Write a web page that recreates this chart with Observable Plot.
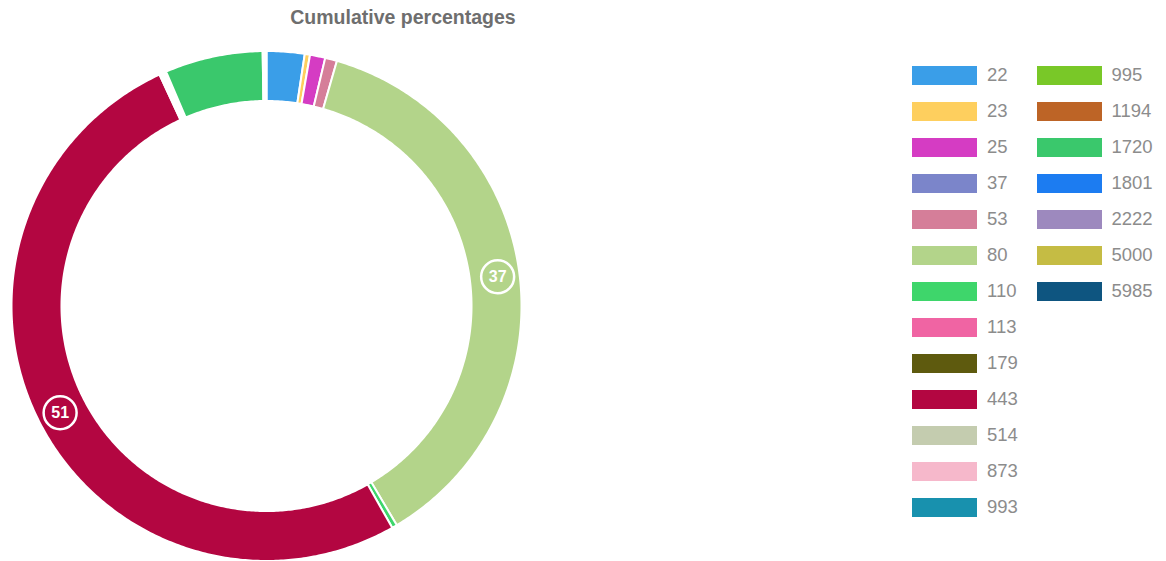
<!DOCTYPE html>
<html>
<head>
<meta charset="utf-8">
<script src="https://cdn.jsdelivr.net/npm/d3@7"></script>
<script src="https://cdn.jsdelivr.net/npm/@observablehq/plot@0.6"></script>
<style>
  html, body { margin: 0; padding: 0; background: #fff; }
  #wrap { position: relative; width: 1166px; height: 561px; overflow: hidden; font-family: "Liberation Sans", Arial, sans-serif; }
  #chart { position: absolute; left: 0; top: 0; }
  #title { position: absolute; left: 203px; width: 400px; top: 6px; text-align: center; font-size: 19.5px; font-weight: bold; color: #6e6e6e; }
  #legend { position: absolute; left: 912px; top: 57px; display: grid; grid-auto-flow: column; grid-template-rows: repeat(13, 36px); grid-template-columns: 124.5px 124.5px; }
  .item { display: flex; align-items: center; }
  .sw { width: 65px; height: 19px; margin-right: 10px; }
  .lb { font-size: 18.5px; color: #8c8c8c; }
</style>
</head>
<body>
<div id="wrap">
  <div id="chart"></div>
  <div id="title">Cumulative percentages</div>
  <div id="legend"></div>
</div>
<script>
// Categories (legend order = slice order, clockwise from 12 o'clock)
const categories = ["22","23","25","37","53","80","110","113","179","443","514","873","993","995","1194","1720","1801","2222","5000","5985"];
// Shares in percent
const shares = [2.4, 0.33, 0.97, 0, 0.75, 37.0, 0.33, 0, 0, 51.3, 0.09, 0.09, 0.09, 0.09, 0.09, 6.2, 0.06, 0.06, 0.06, 0.06];
const colors = ["#3a9ee8","#fecf5e","#d53cc3","#7b85ca","#d57e99","#b3d48a","#3ed66b","#f064a3","#5e5a0e","#b30641","#c4ccaf","#f6b8cb","#1891ae","#79c828","#bd6426","#3ac86c","#1c7cf1","#9d89be","#c5bc44","#0e5580"];

const cx = 266.5, cy = 306, R = 255, innerRatio = 0.804;
const W = 1166, H = 561;

const total = d3.sum(shares);
const pie = d3.pie().sort(null).value(d => d.share).startAngle(0).endAngle(2 * Math.PI);
const table = categories.map((c, i) => ({cat: c, share: shares[i]}));
const arcs = pie(table);

// Sample each sector along its angle (unit circle coordinates)
const ringPts = [];
for (const a of arcs) {
  if (a.data.share <= 0) continue;
  const n = Math.max(2, Math.ceil((a.endAngle - a.startAngle) / 0.01));
  for (let k = 0; k <= n; k++) {
    const t = a.startAngle + (a.endAngle - a.startAngle) * k / n;
    ringPts.push({
      cat: a.data.cat,
      xi: innerRatio * Math.sin(t), yi: innerRatio * Math.cos(t),
      xo: Math.sin(t), yo: Math.cos(t)
    });
  }
}

const rm = (1 + innerRatio) / 2 + 0.01;
const labels = arcs
  .filter(a => a.data.share / total * 100 > 10)
  .map(a => {
    const m = (a.startAngle + a.endAngle) / 2;
    return {cat: a.data.cat, x: rm * Math.sin(m), y: rm * Math.cos(m), text: String(Math.round(a.data.share / total * 100))};
  });

const chart = Plot.plot({
  width: W,
  height: H,
  margin: 0,
  x: {domain: [-1, 1], range: [cx - R, cx + R], axis: null},
  y: {domain: [-1, 1], range: [cy + R, cy - R], axis: null},
  color: {type: "ordinal", domain: categories, range: colors},
  marks: [
    Plot.area(ringPts, {x1: "xi", y1: "yi", x2: "xo", y2: "yo", z: "cat", fill: "cat", stroke: "white", strokeWidth: 2, curve: "linear"}),
    Plot.dot(labels, {x: "x", y: "y", r: 16.5, fill: "none", stroke: "white", strokeWidth: 2.5}),
    Plot.text(labels, {x: "x", y: "y", text: "text", fill: "white", fontSize: 16, fontWeight: "bold", fontFamily: "Liberation Sans, Arial, sans-serif"})
  ]
});
document.getElementById("chart").appendChild(chart);

const colorScale = chart.scale("color");
const legend = d3.select("#legend");
categories.forEach((c) => {
  const it = legend.append("div").attr("class", "item");
  it.append("div").attr("class", "sw").style("background", colorScale.apply(c));
  it.append("div").attr("class", "lb").text(c);
});
</script>
</body>
</html>
